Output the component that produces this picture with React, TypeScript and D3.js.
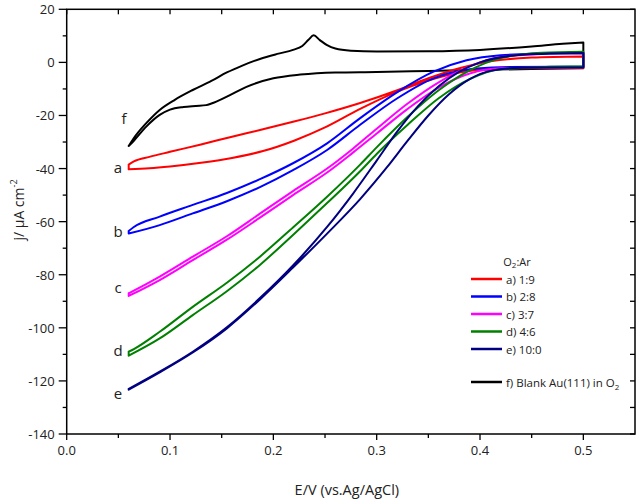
import React from "react";
import * as d3 from "d3";

// ---- data (E in V, j in µA cm^-2) ----
const aUpper = [[0.06,-38.5],[0.065,-37.3],[0.08,-35.6],[0.1,-33.7],[0.13,-30.9],[0.16,-28],[0.19,-25.2],[0.22,-22.3],[0.25,-19.2],[0.284,-15.3],[0.32,-10.5],[0.35,-6],[0.38,-2.2],[0.41,0.4],[0.45,1.8],[0.5,2.2]];
const aLower = [[0.06,-40.3],[0.08,-39.9],[0.1,-39.2],[0.13,-37.8],[0.16,-36],[0.19,-33.4],[0.22,-29.5],[0.25,-24.5],[0.284,-17.5],[0.32,-11],[0.35,-6.8],[0.38,-3.8],[0.42,-2.3],[0.5,-2]];

const bUpper = [[0.06,-63.5],[0.065,-62],[0.09,-58.1],[0.122,-53.7],[0.155,-49.2],[0.187,-44],[0.219,-38],[0.252,-30.5],[0.284,-21],[0.32,-11.2],[0.355,-3.5],[0.387,0.8],[0.42,2.7],[0.46,3.3],[0.5,3.5]];
const bLower = [[0.06,-64.5],[0.09,-61.3],[0.122,-56.9],[0.155,-52.3],[0.187,-47],[0.219,-40.6],[0.252,-33],[0.284,-23.5],[0.32,-13.5],[0.355,-6],[0.39,-2.6],[0.42,-1.8],[0.5,-1.6]];

const cUpper = [[0.06,-87],[0.065,-86],[0.09,-80.7],[0.122,-73.2],[0.155,-65.5],[0.187,-57],[0.219,-48.5],[0.252,-40],[0.277,-32.5],[0.3,-25],[0.33,-15.5],[0.36,-7.5],[0.39,-1.5],[0.42,2],[0.46,3.2],[0.5,3.5]];
const cLower = [[0.06,-88],[0.09,-82],[0.122,-74.5],[0.155,-66.8],[0.187,-58.5],[0.219,-50],[0.252,-41.5],[0.277,-34],[0.3,-26.8],[0.33,-17.5],[0.36,-9.5],[0.39,-4.2],[0.42,-2.2],[0.5,-1.8]];

const dUpper = [[0.06,-109],[0.065,-108],[0.09,-101.5],[0.122,-92.1],[0.155,-83],[0.187,-73.2],[0.219,-62.2],[0.252,-50.6],[0.284,-38.5],[0.3,-32],[0.33,-20.5],[0.36,-10.5],[0.39,-3],[0.42,1.6],[0.46,3.6],[0.5,4]];
const dLower = [[0.06,-110.5],[0.09,-104],[0.122,-95.2],[0.155,-86.2],[0.187,-76.3],[0.219,-65],[0.252,-53],[0.284,-41],[0.3,-34.5],[0.33,-23.5],[0.36,-13.5],[0.39,-6.3],[0.42,-2.6],[0.46,-1.8],[0.5,-1.5]];

const eUpper = [[0.06,-123],[0.09,-116.5],[0.122,-109],[0.155,-99.8],[0.187,-88.8],[0.219,-76.5],[0.252,-62],[0.277,-49.5],[0.3,-37],[0.32,-26],[0.34,-16.5],[0.36,-9],[0.38,-3.5],[0.4,0],[0.43,2.5],[0.46,3.2],[0.5,3.5]];
const eLower = [[0.06,-123.3],[0.09,-116.8],[0.122,-109.3],[0.155,-100.2],[0.187,-89.3],[0.219,-77.3],[0.252,-64.5],[0.284,-51.5],[0.31,-39.5],[0.33,-29.5],[0.35,-20],[0.37,-12],[0.39,-6.3],[0.41,-3.2],[0.44,-2],[0.5,-1.8]];

const fUpper = [[0.06,-31.5],[0.065,-28.5],[0.077,-22.9],[0.09,-17.9],[0.105,-14],[0.122,-10.4],[0.14,-7],[0.155,-3.8],[0.17,-1.2],[0.187,1.3],[0.205,3.3],[0.219,4.7],[0.228,6.2],[0.234,8.5],[0.239,10.2],[0.245,8.4],[0.252,6.5],[0.26,5.2],[0.275,4.4],[0.3,4.1],[0.35,4.2],[0.4,4.7],[0.45,6.0],[0.48,7.0],[0.5,7.5]];
const fLower = [[0.06,-31.5],[0.065,-29.5],[0.077,-24.2],[0.09,-19.8],[0.1,-17.8],[0.113,-16.8],[0.125,-16.4],[0.135,-16.1],[0.14,-15.5],[0.155,-12.9],[0.174,-9.2],[0.2,-6.0],[0.226,-4.6],[0.26,-3.8],[0.3,-3.6],[0.35,-3.2],[0.4,-2.8],[0.45,-2.5],[0.5,-2.2]];

const seriesKeys = ["a", "b", "c", "d", "e", "f"];
const seriesColors = ["#ff0000", "#0000ff", "#ff00ff", "#008000", "#000080", "#000000"];
const seriesUpper = [aUpper, bUpper, cUpper, dUpper, eUpper, fUpper];
const seriesLower = [aLower, bLower, cLower, dLower, eLower, fLower];
const legendLabels = ["a) 1:9", "b) 2:8", "c) 3:7", "d) 4:6", "e) 10:0"];
const curveLabelJ = [-39.5, -63.7, -84.6, -108.3, -124.5, -21];

const xMajorTicks = [0, 0.1, 0.2, 0.3, 0.4, 0.5];
const xMinorTicks = [0.05, 0.15, 0.25, 0.35, 0.45];
const yMajorTicks = [20, 0, -20, -40, -60, -80, -100, -120, -140];
const yMinorTicks = [10, -10, -30, -50, -70, -90, -110, -130];

const FONT = "'Open Sans', 'Noto Sans', sans-serif";

export default function App() {
  const left = 66.7, right = 635, top = 9.3, bottom = 434;
  const x = d3.scaleLinear().domain([0, 0.55]).range([left, right]);
  const y = d3.scaleLinear().domain([-140, 20]).range([bottom, top]);
  const smooth = d3.line<number[]>().x(d => x(d[0])).y(d => y(d[1])).curve(d3.curveMonotoneX);
  const straight = d3.line<number[]>().x(d => x(d[0])).y(d => y(d[1]));

  const order = [5, 0, 1, 2, 3, 4];

  return (
    <svg width={640} height={499} style={{ position: "absolute", left: 0, top: 0, background: "#fff" }} fontFamily={FONT}>
      <rect x={0} y={0} width={640} height={499} fill="#fff" />
      {/* curves */}
      {order.map(i => {
        const up = seriesUpper[i], lo = seriesLower[i];
        const d = [
          smooth(up),
          smooth(lo),
          straight([up[0], lo[0]]),
          straight([up[up.length - 1], lo[lo.length - 1]]),
        ].join(" ");
        return <path key={i} d={d} fill="none" stroke={seriesColors[i]} strokeWidth={2} strokeLinejoin="round" strokeLinecap="round" />;
      })}
      {/* curve letters */}
      {seriesKeys.map((k, i) => (
        <text key={k} x={i === 5 ? 124 : 118} y={y(curveLabelJ[i])} fontSize={15} textAnchor="middle" dominantBaseline="central" fill="#222">{k}</text>
      ))}
      {/* frame */}
      <rect x={left} y={top} width={right - left} height={bottom - top} fill="none" stroke="#000" strokeWidth={1.5} />
      {/* x ticks */}
      {xMajorTicks.map(t => (
        <g key={"xM" + t}>
          <line x1={x(t)} x2={x(t)} y1={bottom} y2={bottom + 6} stroke="#000" strokeWidth={1.3} />
          <line x1={x(t)} x2={x(t)} y1={top} y2={top + 5} stroke="#000" strokeWidth={1.3} />
          <text x={x(t)} y={bottom + 21} fontSize={13} textAnchor="middle" fill="#222">{d3.format(".1f")(t)}</text>
        </g>
      ))}
      {xMinorTicks.map(t => (
        <g key={"xm" + t}>
          <line x1={x(t)} x2={x(t)} y1={bottom} y2={bottom + 4} stroke="#000" strokeWidth={1.3} />
          <line x1={x(t)} x2={x(t)} y1={top} y2={top + 5} stroke="#000" strokeWidth={1.3} />
        </g>
      ))}
      {/* y ticks */}
      {yMajorTicks.map(t => (
        <g key={"yM" + t}>
          <line x1={left - 8} x2={left} y1={y(t)} y2={y(t)} stroke="#000" strokeWidth={1.3} />
          <line x1={right - 5} x2={right} y1={y(t)} y2={y(t)} stroke="#000" strokeWidth={1.3} />
          <text x={left - 12} y={y(t)} fontSize={13} textAnchor="end" dominantBaseline="central" fill="#222">{t}</text>
        </g>
      ))}
      {yMinorTicks.map(t => (
        <g key={"ym" + t}>
          <line x1={left - 4} x2={left} y1={y(t)} y2={y(t)} stroke="#000" strokeWidth={1.3} />
          <line x1={right - 5} x2={right} y1={y(t)} y2={y(t)} stroke="#000" strokeWidth={1.3} />
        </g>
      ))}
      {/* axis titles */}
      <text x={(left + right) / 2 - 4} y={495} fontSize={14.5} textAnchor="middle" fill="#222">E/V (vs.Ag/AgCl)</text>
      <text transform={`translate(24, 210) rotate(-90)`} fontSize={14} textAnchor="middle" fill="#222">
        j/ µA cm<tspan fontSize={9} dy={-7}>-2</tspan>
      </text>
      {/* legend */}
      <text x={517} y={261} fontSize={11} textAnchor="middle" fill="#222" dominantBaseline="central">
        O<tspan fontSize={8} dy={3}>2</tspan><tspan dy={-3}>:Ar</tspan>
      </text>
      {legendLabels.map((lab, i) => {
        const ly = 279 + i * 17.5;
        return (
          <g key={lab}>
            <line x1={471} x2={502} y1={ly} y2={ly} stroke={seriesColors[i]} strokeWidth={2.5} />
            <text x={506} y={ly} fontSize={11.5} dominantBaseline="central" fill="#222">{lab}</text>
          </g>
        );
      })}
      <g>
        <line x1={471} x2={502} y1={382} y2={382} stroke={seriesColors[5]} strokeWidth={2.5} />
        <text x={506} y={382} fontSize={11.5} dominantBaseline="central" fill="#222">
          f) Blank Au(111) in O<tspan fontSize={8} dy={4}>2</tspan>
        </text>
      </g>
    </svg>
  );
}
